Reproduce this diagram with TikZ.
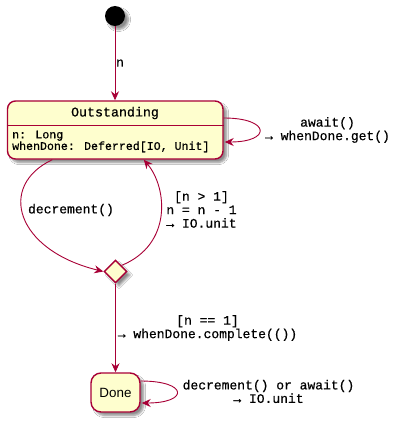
\documentclass[tikz,border=0pt]{standalone}
\usepackage{fontspec}
\setmainfont{Liberation Mono}[FakeBold=0.6]
\newfontfamily\donefont{Liberation Sans}
\usetikzlibrary{arrows.meta,shapes.geometric,shadows.blur,calc}
\definecolor{pborder}{HTML}{A80036}
\definecolor{pfill}{HTML}{FEFECE}
\begin{document}
\begin{tikzpicture}[x=1pt,y=-1pt,
  shd/.style={blur shadow={shadow xshift=3.5pt,shadow yshift=-3.5pt,shadow blur steps=6,shadow opacity=45}},
  statebox/.style={draw=pborder,fill=pfill,line width=1.4pt,shd,inner sep=0pt},
  arr/.style={draw=pborder,line width=0.9pt,-{Stealth[length=9pt,width=8pt,inset=3pt]}},
  lab/.style={font=\fontsize{13}{13.5}\selectfont,align=center,inner sep=0pt}
]
\useasboundingbox[fill=white] (0,0) rectangle (404,425);
\node[circle,fill=black,minimum size=20pt,inner sep=0pt,shd] (init) at (115,16) {};
\node[statebox,rounded corners=8pt,minimum width=215.5pt,minimum height=58pt] (out) at (115.25,130) {};
\draw[pborder,line width=1pt] ($(out.north west)+(0,25)$) coordinate (sepL) -- ($(out.north east)+(0,25)$) coordinate (sepR);
\node[font=\fontsize{13.3}{14}\selectfont,inner sep=0pt] (title) at (115,113) {Outstanding};
\node[font=\fontsize{11.6}{11.5}\selectfont,align=left,anchor=west,inner sep=0pt] (body) at (12,141.5) {n: Long\\whenDone: Deferred[IO, Unit]};
\node[diamond,statebox,minimum width=23pt,minimum height=23pt] (dia) at (115.5,271.5) {};
\node[statebox,rounded corners=10pt,minimum width=49pt,minimum height=39pt,font=\donefont\fontsize{13.4}{14}\selectfont] (done) at (115.5,392.5) {Done};

\draw[arr] (init) -- (init |- out.north);
\draw[arr] ($(out.east)+(0,-12)$) coordinate (o1) .. controls +(47,0) and +(47,0) .. ($(out.east)+(1,12)$) coordinate (o2);
\draw[arr] ($(out.south west)+(45.5,0)$) coordinate (d1) .. controls +(-55,26) and +(-88,-21.5) .. (dia.west);
\draw[arr] (dia.north east) .. controls +(51,-21) and +(23.5,28) .. ($(out.south west)+(137,0)$) coordinate (r2);
\draw[arr] (dia) -- (done);
\draw[arr] ($(done.east)+(0,-11.5)$) coordinate (e1) .. controls +(48,0) and +(47,0) .. ($(done.east)+(1,10.5)$) coordinate (e2);

\node[lab] (labn) at (120,63) {n};
\node[lab] (labawait) at (327.5,130) {await()\\→ whenDone.get()};
\node[lab] (labdec) at (71,210) {decrement()};
\node[lab] (labgt) at (201.5,209.5) {[n > 1]\\n = n - 1\\→ IO.unit};
\node[lab] (labeq) at (207.5,328) {[n == 1]\\→ whenDone.complete(())};
\node[lab] (labdone) at (268.5,391.5) {decrement() or await()\\→ IO.unit};
\end{tikzpicture}
\end{document}
